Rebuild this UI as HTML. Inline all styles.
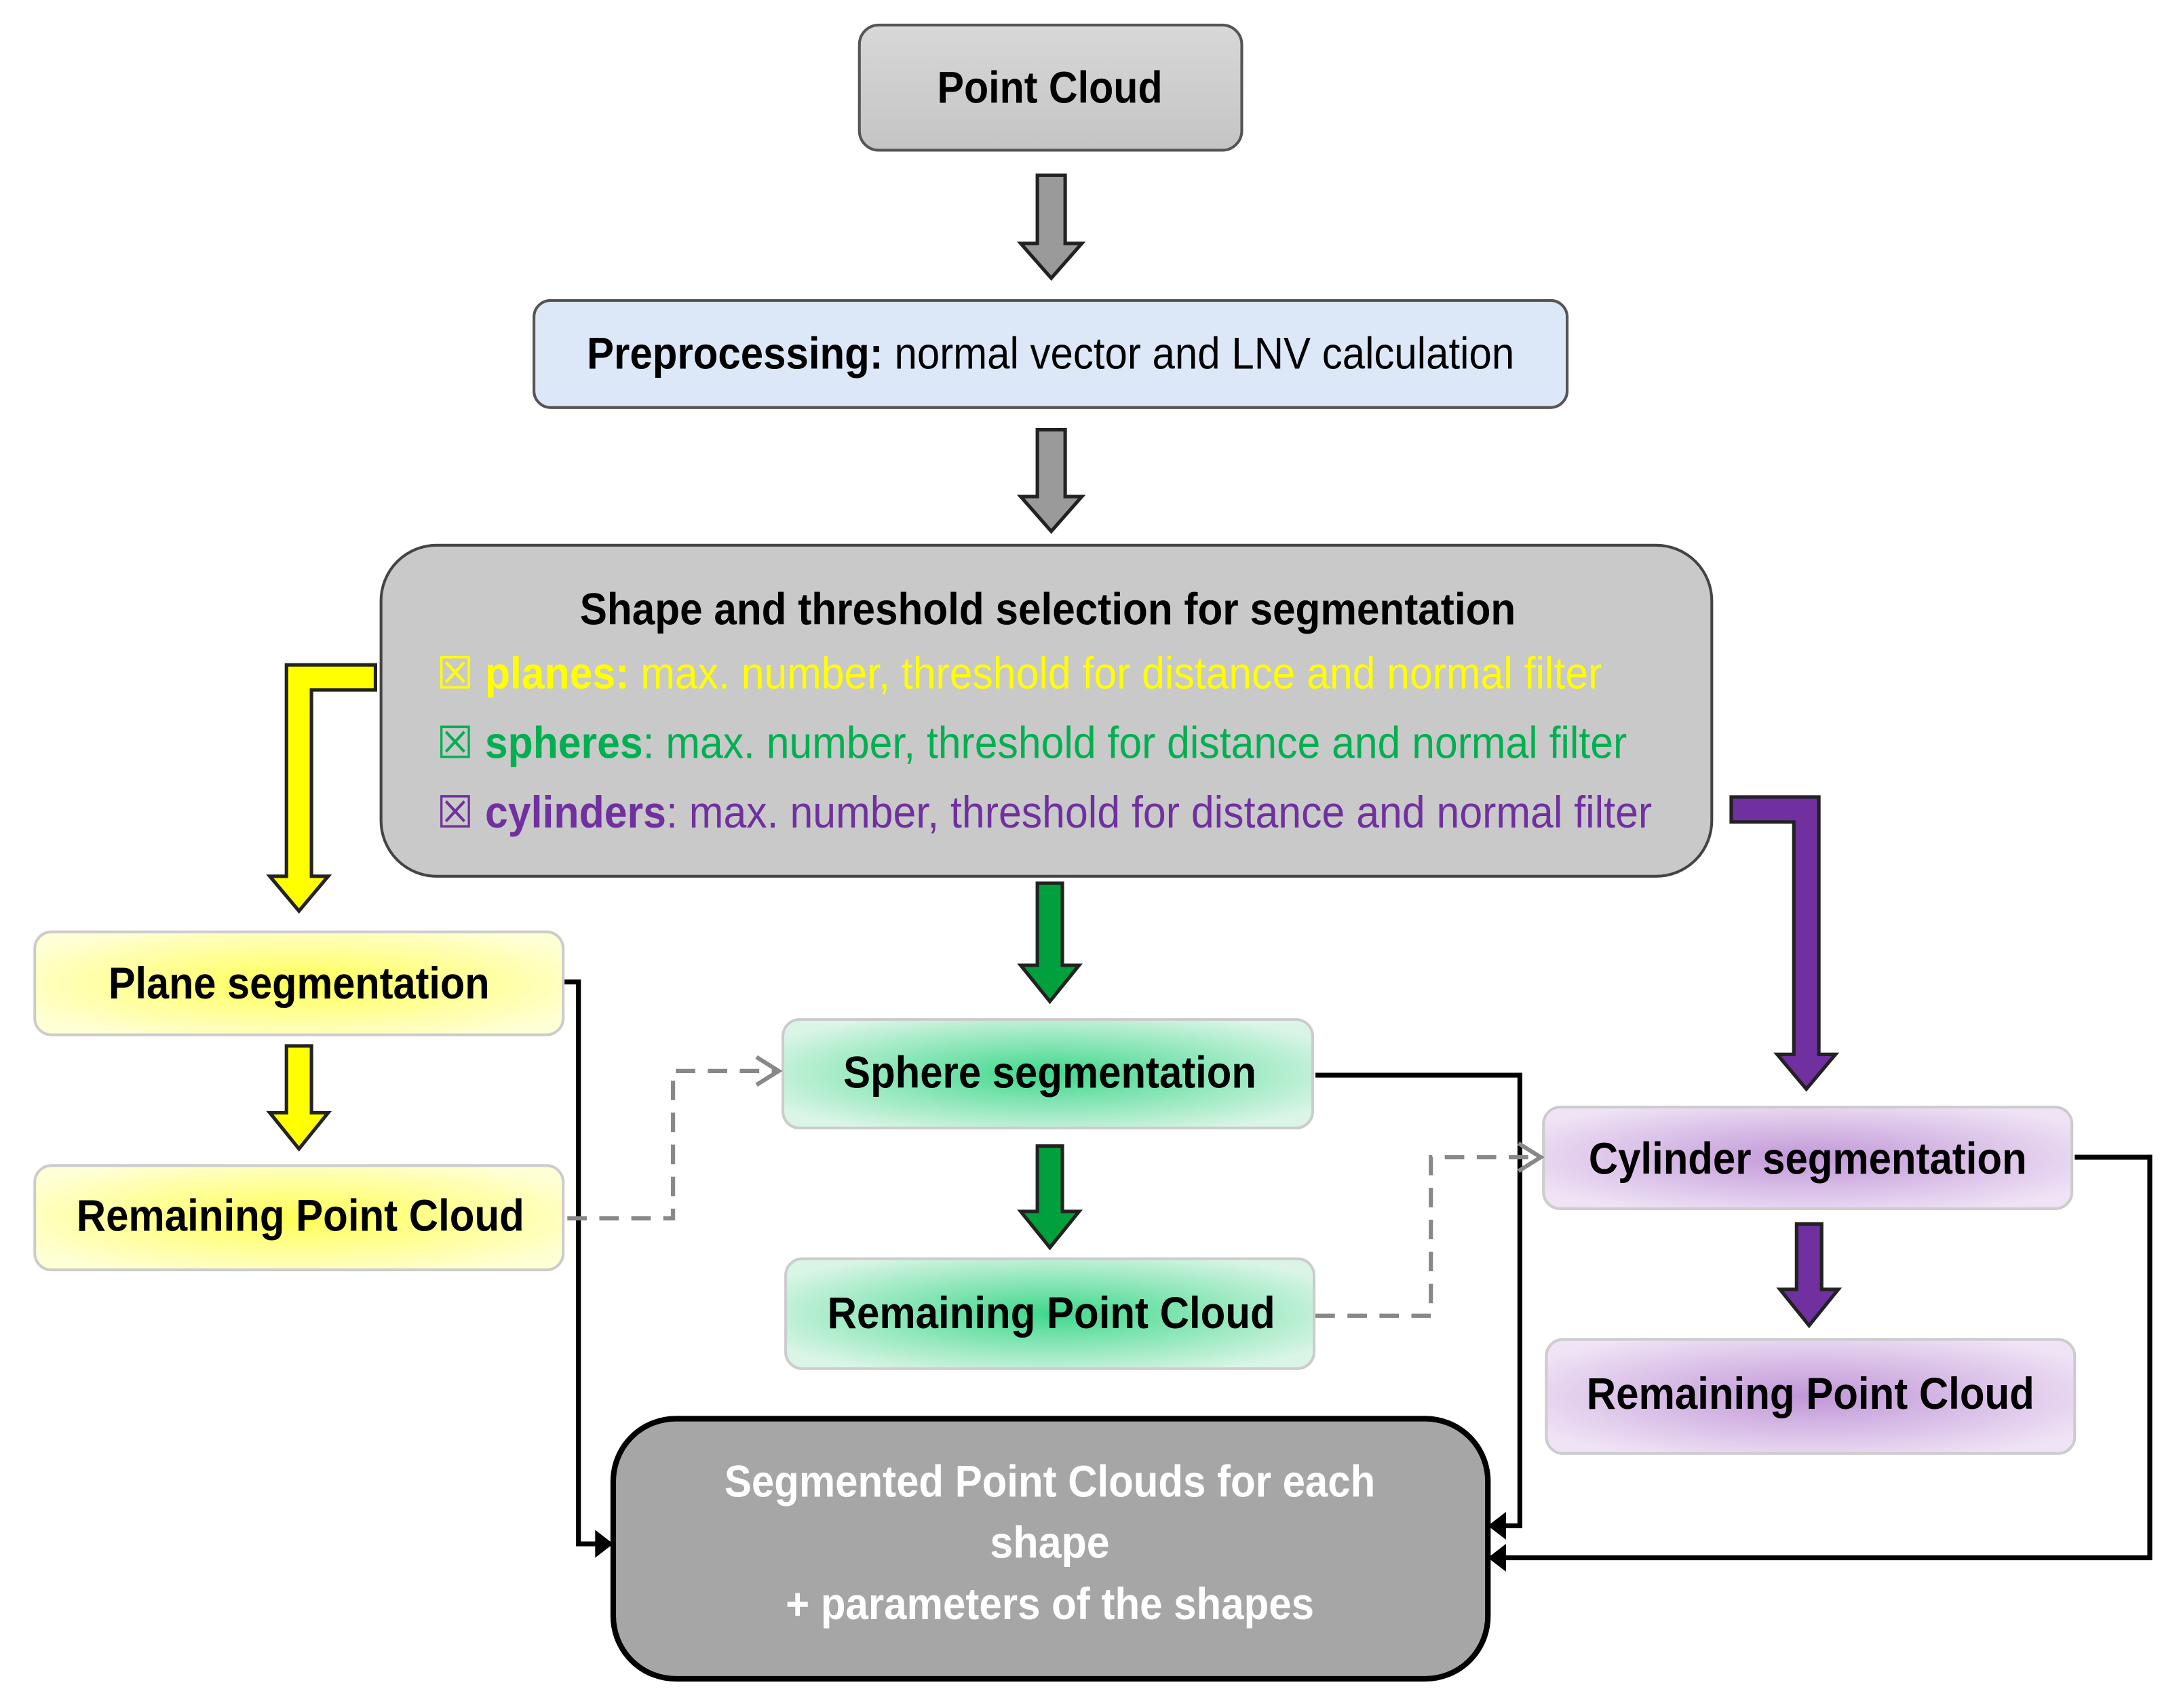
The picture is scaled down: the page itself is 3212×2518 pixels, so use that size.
<!DOCTYPE html>
<html><head><meta charset="utf-8"><style>
html,body{margin:0;padding:0;background:#fff;}
svg{display:block;}
text{font-family:"Liberation Sans Narrow","Liberation Sans",sans-serif;font-weight:bold;}
</style></head><body>
<svg width="3212" height="2518" viewBox="0 0 1567 1228" preserveAspectRatio="none" xmlns="http://www.w3.org/2000/svg">
<defs>
<linearGradient id="gr" x1="0" y1="0" x2="0" y2="1"><stop offset="0" stop-color="#d8d8d8"/><stop offset="1" stop-color="#c4c4c4"/></linearGradient>
<radialGradient id="yl" cx="0.5" cy="0.5" r="0.6"><stop offset="0" stop-color="#ffff55"/><stop offset="1" stop-color="#ffffd6"/></radialGradient>
<radialGradient id="gn" cx="0.5" cy="0.5" r="0.6"><stop offset="0" stop-color="#3fd88c"/><stop offset="1" stop-color="#daf5e6"/></radialGradient>
<radialGradient id="pu" cx="0.5" cy="0.5" r="0.6"><stop offset="0" stop-color="#c197d8"/><stop offset="1" stop-color="#efe3f5"/></radialGradient>
</defs>

<rect x="618" y="18" width="275" height="90" rx="14" fill="url(#gr)" stroke="#555" stroke-width="2"/>
<text x="755" y="74" font-size="32" text-anchor="middle" textLength="162" lengthAdjust="spacingAndGlyphs">Point Cloud</text>

<path d="M746 126 H766 V175 H778 L756 200 L734 175 H746 Z" fill="#9a9a9a" stroke="#222" stroke-width="2.5"/>
<path d="M746 309 H766 V357 H778 L756 382 L734 357 H746 Z" fill="#9a9a9a" stroke="#222" stroke-width="2.5"/>

<rect x="384" y="216" width="743" height="77" rx="12" fill="#dce8f7" stroke="#555" stroke-width="2"/>
<text x="422" y="265" font-size="32" textLength="667" lengthAdjust="spacingAndGlyphs">Preprocessing:<tspan font-weight="normal"> normal vector and LNV calculation</tspan></text>

<rect x="274" y="392" width="957" height="238" rx="40" fill="#c9c9c9" stroke="#444" stroke-width="2"/>
<text x="417" y="449" font-size="32" textLength="673" lengthAdjust="spacingAndGlyphs">Shape and threshold selection for segmentation</text>
<text x="314" y="495" font-size="32" fill="#ffff00" textLength="838" lengthAdjust="spacingAndGlyphs"><tspan font-family="DejaVu Sans" font-weight="normal">☒</tspan> planes:<tspan font-weight="normal"> max. number, threshold for distance and normal filter</tspan></text>
<text x="314" y="545" font-size="32" fill="#00b050" textLength="856" lengthAdjust="spacingAndGlyphs"><tspan font-family="DejaVu Sans" font-weight="normal">☒</tspan> spheres<tspan font-weight="normal">: max. number, threshold for distance and normal filter</tspan></text>
<text x="314" y="595" font-size="32" fill="#7030a0" textLength="874" lengthAdjust="spacingAndGlyphs"><tspan font-family="DejaVu Sans" font-weight="normal">☒</tspan> cylinders<tspan font-weight="normal">: max. number, threshold for distance and normal filter</tspan></text>

<path d="M270 478 V496 H224 V630 H236 L215 655 L194 630 H206 V478 Z" fill="#ffff00" stroke="#222" stroke-width="2.5"/>
<path d="M1245 573 H1308 V758 H1320 L1299 783 L1278 758 H1290 V591 H1245 Z" fill="#7030a0" stroke="#222" stroke-width="2.5"/>
<path d="M746 635 H764 V694 H776 L755 720 L734 694 H746 Z" fill="#00a03c" stroke="#222" stroke-width="2.5"/>
<path d="M746 824 H764 V871 H776 L755 897 L734 871 H746 Z" fill="#00a03c" stroke="#222" stroke-width="2.5"/>
<path d="M206 752 H224 V800 H236 L215 826 L194 800 H206 Z" fill="#ffff00" stroke="#222" stroke-width="2.5"/>
<path d="M1292 880 H1310 V927 H1322 L1301 953 L1280 927 H1292 Z" fill="#7030a0" stroke="#222" stroke-width="2.5"/>

<rect x="25" y="670" width="380" height="74" rx="12" fill="url(#yl)" stroke="#ccc" stroke-width="2"/>
<text x="215" y="718" font-size="32" text-anchor="middle" textLength="274" lengthAdjust="spacingAndGlyphs">Plane segmentation</text>
<rect x="25" y="838" width="380" height="75" rx="12" fill="url(#yl)" stroke="#ccc" stroke-width="2"/>
<text x="216" y="885" font-size="32" text-anchor="middle" textLength="322" lengthAdjust="spacingAndGlyphs">Remaining Point Cloud</text>

<rect x="563" y="733" width="381" height="78" rx="12" fill="url(#gn)" stroke="#ccc" stroke-width="2"/>
<text x="755" y="782" font-size="32" text-anchor="middle" textLength="297" lengthAdjust="spacingAndGlyphs">Sphere segmentation</text>
<rect x="565" y="905" width="380" height="79" rx="12" fill="url(#gn)" stroke="#ccc" stroke-width="2"/>
<text x="756" y="955" font-size="32" text-anchor="middle" textLength="322" lengthAdjust="spacingAndGlyphs">Remaining Point Cloud</text>

<rect x="1110" y="796" width="380" height="73" rx="12" fill="url(#pu)" stroke="#ccc" stroke-width="2"/>
<text x="1300" y="844" font-size="32" text-anchor="middle" textLength="315" lengthAdjust="spacingAndGlyphs">Cylinder segmentation</text>
<rect x="1112" y="963" width="380" height="82" rx="12" fill="url(#pu)" stroke="#ccc" stroke-width="2"/>
<text x="1302" y="1013" font-size="32" text-anchor="middle" textLength="322" lengthAdjust="spacingAndGlyphs">Remaining Point Cloud</text>

<rect x="441" y="1020" width="629" height="187" rx="45" fill="#a6a6a6" stroke="#000" stroke-width="4"/>
<text x="755" y="1076" font-size="32" fill="#fff" text-anchor="middle" textLength="468" lengthAdjust="spacingAndGlyphs">Segmented Point Clouds for each</text>
<text x="755" y="1120" font-size="32" fill="#fff" text-anchor="middle" textLength="86" lengthAdjust="spacingAndGlyphs">shape</text>
<text x="755" y="1164" font-size="32" fill="#fff" text-anchor="middle" textLength="380" lengthAdjust="spacingAndGlyphs">+ parameters of the shapes</text>

<g fill="none" stroke="#000" stroke-width="3.5">
<path d="M406 706 H416 V1110 H430"/>
<path d="M946 773 H1093 V1097 H1082"/>
<path d="M1492 832 H1546 V1120 H1082"/>
</g>
<g fill="#000">
<path d="M441 1110 L428 1100 L428 1120 Z"/>
<path d="M1070 1097 L1083 1087 L1083 1107 Z"/>
<path d="M1070 1120 L1083 1110 L1083 1130 Z"/>
</g>

<g fill="none" stroke="#888" stroke-width="3">
<path d="M408 876 H484 V770 H558" stroke-dasharray="14 9"/>
<path d="M544 760 L560 770 L544 780"/>
<path d="M946 946 H1029 V832 H1106" stroke-dasharray="14 9"/>
<path d="M1092 822 L1108 832 L1092 842"/>
</g>
</svg>
</body></html>
